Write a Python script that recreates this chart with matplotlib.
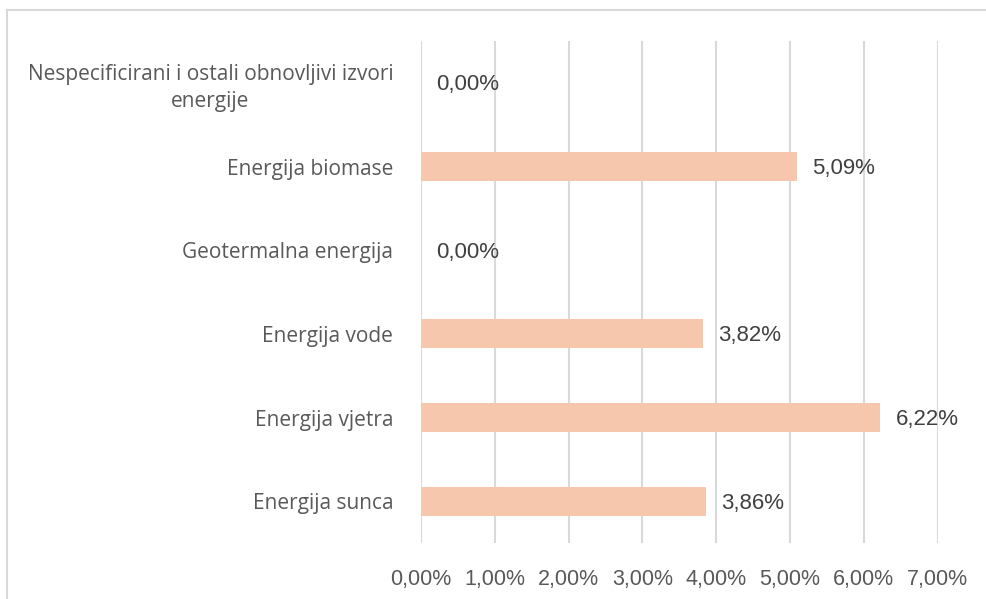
import matplotlib
matplotlib.use('Agg')
import matplotlib.pyplot as plt
from matplotlib.lines import Line2D

# data (top to bottom as shown)
categories = ['Nespecificirani i ostali obnovljivi izvori\nenergije',
              'Energija biomase',
              'Geotermalna energija',
              'Energija vode',
              'Energija vjetra',
              'Energija sunca']
values = [0.00, 5.09, 0.00, 3.82, 6.22, 3.86]
ticks = [0, 1, 2, 3, 4, 5, 6, 7]
tick_labels = ['0,00%', '1,00%', '2,00%', '3,00%', '4,00%', '5,00%', '6,00%', '7,00%']

bar_color = '#F6C7AD'
grid_color = '#D9D9D9'

fig = plt.figure(figsize=(9.86, 5.99), dpi=100)
ax = fig.add_axes([0.427, 0.0935, 0.524, 0.838])

pos = list(range(len(categories)))[::-1]
ax.barh(pos, values, height=0.35, color=bar_color, zorder=2)

for p, v in zip(pos, values):
    ax.annotate(('%.2f' % v).replace('.', ',') + '%',
                xy=(v, p), xytext=(11, -1.5), textcoords='offset points',
                va='center', ha='left', fontsize=16, color='#404040',
                family='Liberation Sans')

ax.set_xlim(0, 7)
ax.set_ylim(-0.5, len(categories) - 0.5)
ax.set_xticks(ticks)
ax.set_xticklabels(tick_labels, fontsize=15.5, color='#595959', family='Liberation Sans')
ax.set_yticks(pos)
ax.set_yticklabels(categories, fontsize=15, color='#595959', family='Open Sans',
                   multialignment='center', linespacing=1.35)
ax.tick_params(axis='both', length=0)
ax.tick_params(axis='x', pad=19)
ax.tick_params(axis='y', pad=20)
ax.xaxis.grid(True, color=grid_color, linewidth=1.5, zorder=0)
ax.set_axisbelow(True)
for s in ax.spines.values():
    s.set_visible(False)

# outer chart frame (cropped)
fig.add_artist(Line2D([0.0075, 0.0075], [0, 0.984], color=grid_color, linewidth=1.5,
                      transform=fig.transFigure))
fig.add_artist(Line2D([0.0075, 1.0], [0.984, 0.984], color=grid_color, linewidth=1.5,
                      transform=fig.transFigure))

plt.savefig('out.png', dpi=100)
